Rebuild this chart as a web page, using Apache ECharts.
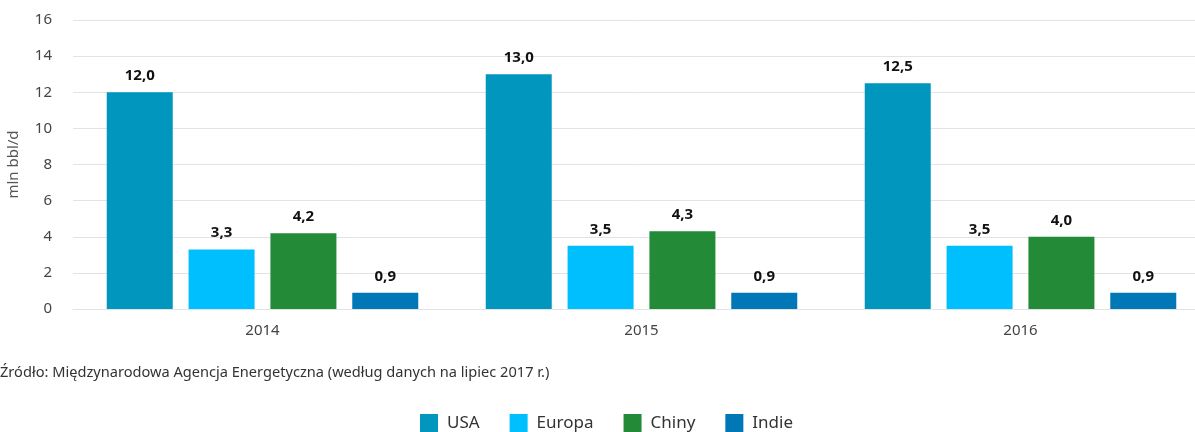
<!DOCTYPE html>
<html>
<head>
<meta charset="utf-8">
<script src="https://cdn.jsdelivr.net/npm/echarts@6/dist/echarts.min.js"></script>
<style>
    html, body { margin: 0; padding: 0; background: #fff; }
    #chart { width: 1195px; height: 432px; }
</style>
</head>
<body>
<div id="chart"></div>
<script>
    // lata i wartości (mln bbl/d)
    var years = ['2014', '2015', '2016'];
    var usa = [12.0, 13.0, 12.5];
    var europa = [3.3, 3.5, 3.5];
    var chiny = [4.2, 4.3, 4.0];
    var indie = [0.9, 0.9, 0.9];
    var yTicks = [0, 2, 4, 6, 8, 10, 12, 14, 16];

    var FONT = '"Noto Sans", "Open Sans", sans-serif';

    function makeSeries(name, data, color) {
        return {
            name: name,
            type: 'bar',
            barWidth: 66,
            barGap: '24%',
            itemStyle: { color: color },
            label: {
                show: true,
                position: 'top',
                distance: 9,
                color: '#111',
                fontFamily: FONT,
                fontWeight: 'bold',
                fontSize: 15,
                formatter: function (p) { return p.value.toFixed(1).replace('.', ','); }
            },
            data: data
        };
    }

    var chart = echarts.init(document.getElementById('chart'));
    chart.setOption({
        animation: false,
        textStyle: { fontFamily: FONT },
        grid: {
            left: 73,
            top: 20,
            width: 1137,
            height: 289,
            outerBoundsMode: 'none'
        },
        legend: {
            left: 420,
            top: 414,
            itemWidth: 18,
            itemHeight: 18,
            itemGap: 30,
            icon: 'rect',
            padding: 0,
            textStyle: { color: '#333', fontSize: 17, lineHeight: 18, fontFamily: FONT, padding: [0, 0, 0, 4] },
            data: ['USA', 'Europa', 'Chiny', 'Indie']
        },
        xAxis: {
            type: 'category',
            data: years,
            axisTick: { show: false },
            axisLine: { lineStyle: { color: '#e3e3e3', width: 1 } },
            axisLabel: { color: '#444', fontSize: 15, margin: 14, fontFamily: FONT }
        },
        yAxis: {
            type: 'value',
            min: yTicks[0],
            max: yTicks[yTicks.length - 1],
            interval: 2,
            name: 'mln bbl/d',
            nameLocation: 'middle',
            nameGap: 52,
            nameTextStyle: { color: '#555', fontSize: 15, fontFamily: FONT },
            axisLine: { show: false },
            axisTick: { show: false },
            axisLabel: { color: '#444', fontSize: 15, margin: 21, fontFamily: FONT },
            splitLine: { lineStyle: { color: '#e3e3e3', width: 1 } }
        },
        graphic: [{
            type: 'text',
            left: 0,
            top: 365,
            style: {
                text: 'Źródło: Międzynarodowa Agencja Energetyczna (według danych na lipiec 2017 r.)',
                fill: '#333',
                fontSize: 14.6,
                fontFamily: FONT
            }
        }],
        series: [
            makeSeries('USA', usa, '#0096be'),
            makeSeries('Europa', europa, '#00bfff'),
            makeSeries('Chiny', chiny, '#238a37'),
            makeSeries('Indie', indie, '#0077b6')
        ]
    });
</script>
</body>
</html>
